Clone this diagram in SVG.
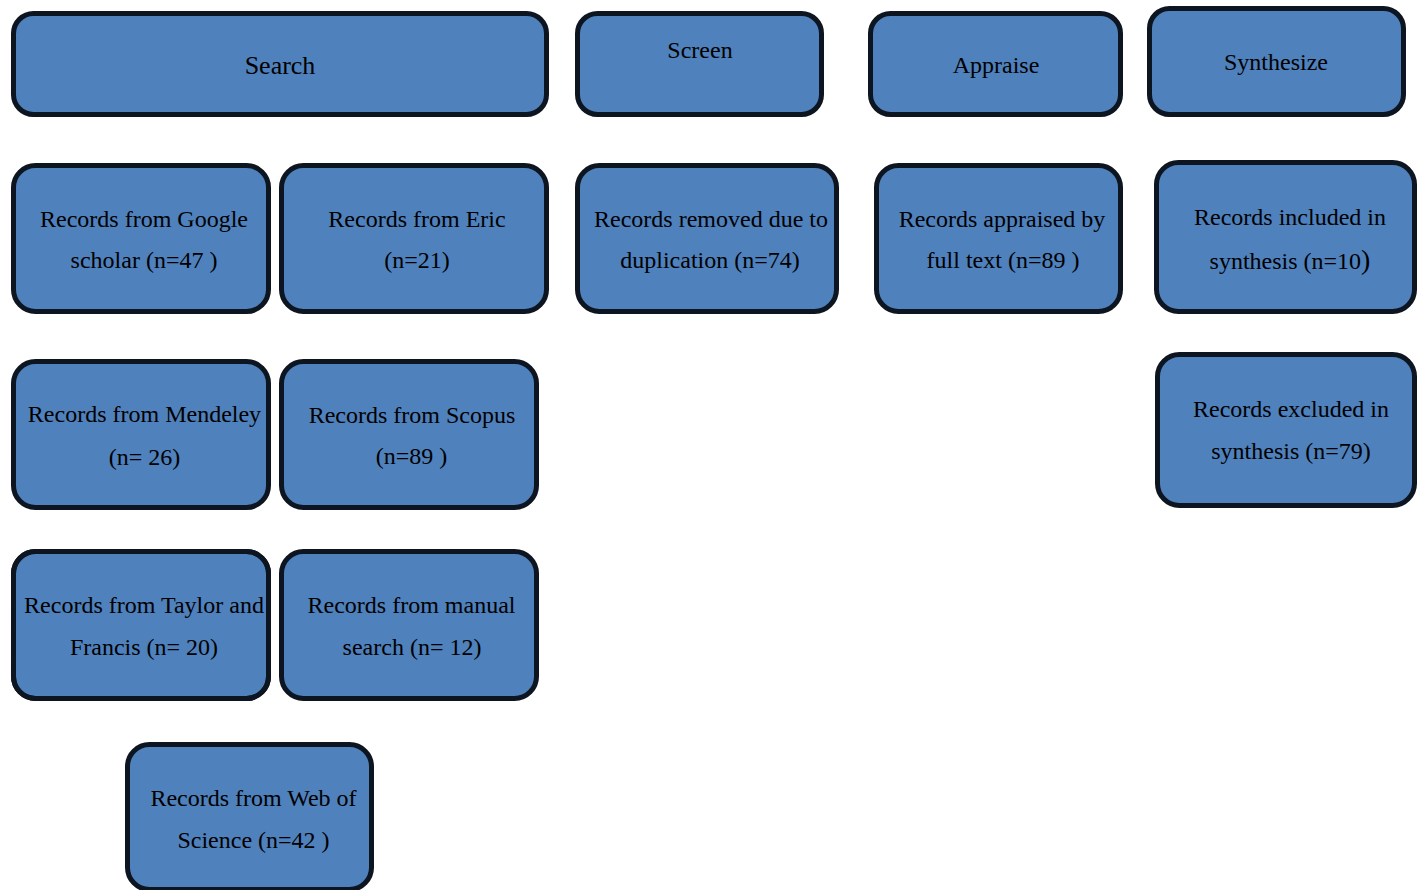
<svg xmlns="http://www.w3.org/2000/svg" width="1423" height="890" viewBox="0 0 1423 890">
<style>
.b{fill:#4F81BD;stroke:#0d1520;stroke-width:5}
.o{fill:none;stroke:#0d1520;stroke-width:5}
.t{font-family:"Liberation Serif","Times New Roman",serif;font-size:24px;fill:#000;text-anchor:middle}
</style>
<rect width="1423" height="890" fill="#fff"/>
<g id="connectors"></g>
<g id="search"><rect class="b" x="13.5" y="13.5" width="533" height="101" rx="20"/><text class="t" x="280" y="74" style="font-size:26px">Search</text></g>
<g id="screen"><rect class="b" x="577.5" y="13.5" width="244" height="101" rx="20"/><text class="t" x="700" y="58">Screen</text></g>
<g id="appraise"><rect class="b" x="870.5" y="13.5" width="250" height="101" rx="20"/><text class="t" x="996" y="73">Appraise</text></g>
<g id="synthesize"><rect class="b" x="1149.5" y="8.5" width="254" height="106" rx="20"/><text class="t" x="1276" y="70">Synthesize</text></g>
<g id="google"><rect class="b" x="13.5" y="165.5" width="255" height="146" rx="22"/><text class="t" x="144" y="227">Records from Google</text><text class="t" x="144" y="268">scholar (n=47 )</text></g>
<g id="eric"><rect class="b" x="281.5" y="165.5" width="265" height="146" rx="22"/><text class="t" x="417" y="227">Records from Eric</text><text class="t" x="417" y="268">(n=21)</text></g>
<g id="removed"><rect class="b" x="577.5" y="165.5" width="259" height="146" rx="22"/><text class="t" x="711" y="227">Records removed due to</text><text class="t" x="710" y="268">duplication  (n=74)</text></g>
<g id="appraised"><rect class="b" x="876.5" y="165.5" width="244" height="146" rx="22"/><text class="t" x="1002" y="227">Records appraised by</text><text class="t" x="1003" y="268">full text (n=89 )</text></g>
<g id="included"><rect class="b" x="1156.5" y="162.5" width="258" height="149" rx="22"/><text class="t" x="1290" y="225">Records included in</text><text class="t" x="1290" y="269">synthesis (n=10<tspan style="font-size:28px">)</tspan></text></g>
<g id="excluded"><rect class="b" x="1157.5" y="354.5" width="257" height="151" rx="22"/><text class="t" x="1291" y="417">Records excluded in</text><text class="t" x="1291" y="459">synthesis (n=79)</text></g>
<g id="mendeley"><rect class="b" x="13.5" y="361.5" width="255" height="146" rx="22"/><text class="t" x="144.5" y="422">Records from Mendeley</text><text class="t" x="144.5" y="465">(n= 26)</text></g>
<g id="scopus"><rect class="b" x="281.5" y="361.5" width="255" height="146" rx="22"/><text class="t" x="412" y="423">Records from Scopus</text><text class="t" x="411.5" y="464">(n=89 )</text></g>
<g id="taylor"><rect class="b" x="13.5" y="551.5" width="255" height="147" rx="22"/><text class="t" x="144" y="613">Records from Taylor and</text><text class="t" x="144" y="655">Francis (n= 20)</text><rect class="o" x="13.5" y="551.5" width="255" height="147" rx="22"/></g>
<g id="manual"><rect class="b" x="281.5" y="551.5" width="255" height="147" rx="22"/><text class="t" x="411.5" y="613">Records from manual</text><text class="t" x="412" y="655">search (n= 12)</text></g>
<g id="wos"><rect class="b" x="127.5" y="744.5" width="244" height="145" rx="22"/><text class="t" x="253.5" y="806">Records from Web of</text><text class="t" x="253.5" y="848">Science (n=42 )</text></g>
</svg>
